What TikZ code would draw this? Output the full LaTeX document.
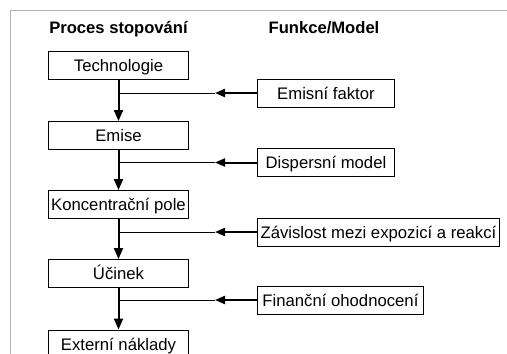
\documentclass[tikz,border=0pt]{standalone}
\usepackage{fontspec}
\setmainfont{Liberation Sans}
\usetikzlibrary{arrows.meta}
\tikzset{
  procbox/.style={draw=black, line width=0.9pt, minimum width=140pt, minimum height=28pt, inner sep=0pt, text height=12pt, text depth=0pt, font=\fontsize{16.7}{19}\selectfont},
  funcbox/.style={draw=black, line width=0.9pt, minimum height=28pt, inner sep=0pt, anchor=west, text height=12pt, text depth=0pt, font=\fontsize{16.7}{19}\selectfont},
  heading/.style={anchor=base, inner sep=0pt, font=\fontsize{16.6}{19}\selectfont\bfseries},
  flow/.style={line width=2pt, -{Triangle[length=11pt,width=9pt]}},
  feed/.style={line width=2pt, -{Triangle[length=10pt,width=8pt]}},
  tap/.style={line width=0.8pt},
  frame/.style={draw=black!30, line width=1pt}
}
\begin{document}
\begin{tikzpicture}[x=1pt,y=-1pt]
\useasboundingbox (0,0) rectangle (507,354);
\draw[frame] (10,354) -- (10,10) -- (507,10);

\node[heading] (h1) at (118.5,33.5) {Proces stopování};
\node[heading] (h2) at (324,33.5) {Funkce/Model};

\node[procbox] (tech) at (118.5,65.5) {Technologie};
\node[procbox] (emise) at (118.5,135.5) {Emise};
\node[procbox] (konc) at (118.5,204.5) {Koncentrační pole};
\node[procbox] (ucin) at (118.5,273.5) {Účinek};
\node[procbox] (ext) at (118.5,344) {Externí náklady};

\node[funcbox, minimum width=137pt] (ef) at (257,93) {Emisní faktor};
\node[funcbox, minimum width=137pt] (dm) at (257,162.5) {Dispersní model};
\node[funcbox, minimum width=242pt] (zav) at (257,232) {Závislost mezi expozicí a reakcí};
\node[funcbox, minimum width=166pt] (fin) at (257,300) {Finanční ohodnocení};

\draw[flow] (tech.south) -- (emise.north);
\draw[flow] (emise.south) -- (konc.north);
\draw[flow] (konc.south) -- (ucin.north);
\draw[flow] (ucin.south) -- (ext.north);

\coordinate (t1) at (215,93);
\coordinate (t2) at (215,162.5);
\coordinate (t3) at (215,232);
\coordinate (t4) at (215,300);

\draw[feed] (ef.west) -- (t1);
\draw[feed] (dm.west) -- (t2);
\draw[feed] (zav.west) -- (t3);
\draw[feed] (fin.west) -- (t4);

\draw[tap] (t1) -- (t1 -| tech.south);
\draw[tap] (t2) -- (t2 -| tech.south);
\draw[tap] (t3) -- (t3 -| tech.south);
\draw[tap] (t4) -- (t4 -| tech.south);
\end{tikzpicture}
\end{document}
